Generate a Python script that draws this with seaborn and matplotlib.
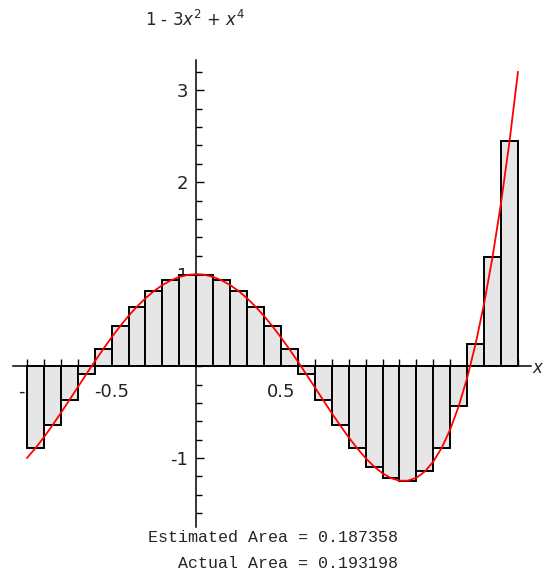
import numpy as np
import pandas as pd
import matplotlib
matplotlib.use("Agg")
import matplotlib.pyplot as plt
import seaborn as sns

# ---- data (f(x) = 1 - 3x^2 + x^4, midpoint Riemann sum on [-1, 1.9], 29 strips) ----
bar_mid = [-0.95, -0.85, -0.75, -0.65, -0.55, -0.45, -0.35, -0.25, -0.15, -0.05,
           0.05, 0.15, 0.25, 0.35, 0.45, 0.55, 0.65, 0.75, 0.85, 0.95,
           1.05, 1.15, 1.25, 1.35, 1.45, 1.55, 1.65, 1.75, 1.85]
bar_height = [-0.8930, -0.6455, -0.3711, -0.0890, 0.1840, 0.4335, 0.6475, 0.8164, 0.9330, 0.9925,
              0.9925, 0.9330, 0.8164, 0.6475, 0.4335, 0.1840, -0.0890, -0.3711, -0.6455, -0.8930,
              -1.0920, -1.2185, -1.2461, -1.1460, -0.8870, -0.4355, 0.2445, 1.1914, 2.4460]

curve_x = [-1.0, -0.95, -0.9, -0.85, -0.8, -0.75, -0.7, -0.65, -0.6, -0.55, -0.5, -0.45,
           -0.4, -0.35, -0.3, -0.25, -0.2, -0.15, -0.1, -0.05, 0.0, 0.05, 0.1, 0.15,
           0.2, 0.25, 0.3, 0.35, 0.4, 0.45, 0.5, 0.55, 0.6, 0.65, 0.7, 0.75, 0.8, 0.85,
           0.9, 0.95, 1.0, 1.05, 1.1, 1.15, 1.2, 1.25, 1.3, 1.35, 1.4, 1.45, 1.5, 1.55,
           1.6, 1.65, 1.7, 1.75, 1.8, 1.85, 1.9]
curve_y = [-1.0, -0.8930, -0.7739, -0.6455, -0.5104, -0.3711, -0.2299, -0.0890, 0.0496, 0.1840,
           0.3125, 0.4335, 0.5456, 0.6475, 0.7381, 0.8164, 0.8816, 0.9330, 0.9701, 0.9925,
           1.0, 0.9925, 0.9701, 0.9330, 0.8816, 0.8164, 0.7381, 0.6475, 0.5456, 0.4335,
           0.3125, 0.1840, 0.0496, -0.0890, -0.2299, -0.3711, -0.5104, -0.6455, -0.7739, -0.8930,
           -1.0, -1.0920, -1.1659, -1.2185, -1.2464, -1.2461, -1.2139, -1.1460, -1.0384, -0.8870,
           -0.6875, -0.4355, -0.1264, 0.2445, 0.6821, 1.1914, 1.7776, 2.4460, 3.2021]

x_major = [-1.0, -0.5, 0.5, 1.0, 1.5]
x_major_labels = ["-1", "-0.5", "0.5", "1", "1.5"]
y_major = [-1, 1, 2, 3]
y_major_labels = ["-1", "1", "2", "3"]

func_label = r"1 - 3$x^2$ + $x^4$"
estimated_text = "Estimated Area = 0.187358"
actual_text = "Actual Area = 0.193198"

# ---- figure ----
sns.set_style("white")
plt.rcParams['font.family'] = ['DejaVu Sans']

W, H = 547, 575
fig = plt.figure(figsize=(W / 100, H / 100), dpi=100)
ax = fig.add_axes([12.7 / W, 1 - 527 / H, (530.7 - 12.7) / W, (527 - 60) / H])

bars = pd.DataFrame({"x": bar_mid, "h": bar_height})
sns.histplot(data=bars, x="x", weights="h", binwidth=0.1, binrange=(-1.0, 1.9),
             color="#e6e6e6", alpha=1.0, edgecolor="black", linewidth=1.4, ax=ax, zorder=1)

curve = pd.DataFrame({"x": curve_x, "y": curve_y})
sns.lineplot(data=curve, x="x", y="y", color="red", linewidth=1.3, ax=ax, zorder=3,
             sort=False)

ax.set_xlim(-1.084, 1.975)
ax.set_ylim(-1.75, 3.33)
ax.set_xlabel("")
ax.set_ylabel("")
ax.set_axisbelow(True)

for s in ["top", "right"]:
    ax.spines[s].set_visible(False)
ax.spines["left"].set_position(("data", 0))
ax.spines["bottom"].set_position(("data", 0))
for s in ["left", "bottom"]:
    ax.spines[s].set_linewidth(1.1)
    ax.spines[s].set_color("black")
    ax.spines[s].set_zorder(2.5)

ax.set_xticks(x_major)
ax.set_xticklabels(x_major_labels)
ax.set_xticks(np.round(np.arange(-1.0, 1.91, 0.1), 2), minor=True)
ax.set_yticks(y_major)
ax.set_yticklabels(y_major_labels)
ax.set_yticks(np.round(np.arange(-1.6, 3.3, 0.2), 2), minor=True)

ax.tick_params(axis="x", which="both", bottom=True, top=False, direction="in",
               length=5, width=1.0, labelsize=13, pad=12, color="black")
ax.tick_params(axis="y", which="major", left=True, right=False, direction="in",
               length=6, width=1.0, labelsize=13, pad=6, color="black")
ax.tick_params(axis="y", which="minor", left=True, right=False, direction="in",
               length=4, width=1.0, color="black")
ax.tick_params(axis="both", which="both", labelcolor="#222222")

fig.text(195 / W, 1 - 20 / H, func_label, ha="center", va="center", fontsize=12)
fig.text(532 / W, 1 - 368 / H, r"$x$", ha="left", va="center", fontsize=12)

fig.text(398 / W, 1 - 538 / H, estimated_text, ha="right", va="center",
         fontsize=12, family="Liberation Mono")
fig.text(398 / W, 1 - 563 / H, actual_text, ha="right", va="center",
         fontsize=12, family="Liberation Mono")

fig.savefig("out.png", dpi=100)
